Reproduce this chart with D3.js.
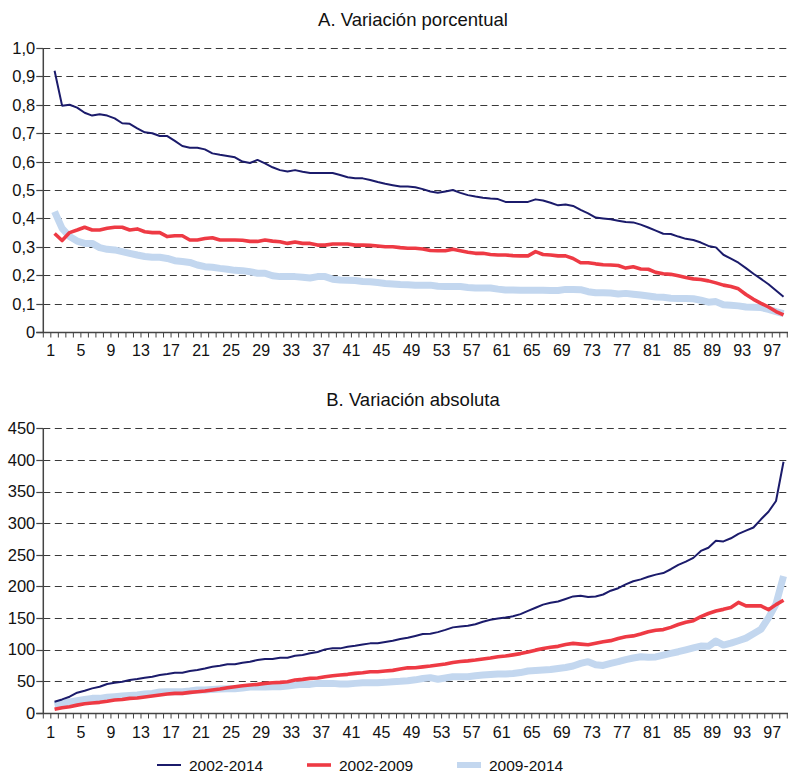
<!DOCTYPE html>
<html><head><meta charset="utf-8">
<script src="https://cdn.jsdelivr.net/npm/d3@7"></script>
<style>
html,body{margin:0;padding:0;background:#fff;}
svg{display:block;font-family:"Liberation Sans",Arial,sans-serif;}
</style></head>
<body>
<svg id="c" width="791" height="773"></svg>
<script>
const seriesNames = ["2002-2014", "2002-2009", "2009-2014"];
const seriesColors = ["#1b1b6b", "#ee3a44", "#c3d7ef"];
const seriesWidths = [2, 3.6, 7];

const categories = d3.range(1, 99);
const xTickLabels = d3.range(1, 98, 4);
const yTicksA = [0, 0.1, 0.2, 0.3, 0.4, 0.5, 0.6, 0.7, 0.8, 0.9, 1.0];
const yTicksB = [0, 50, 100, 150, 200, 250, 300, 350, 400, 450];

const pct_2002_2014 = [0.92,0.797,0.80,0.79,0.772,0.762,0.767,0.762,0.752,0.735,0.733,0.717,0.703,0.70,0.69,0.69,0.673,0.655,0.649,0.649,0.643,0.629,0.624,0.62,0.615,0.60,0.595,0.606,0.594,0.58,0.57,0.565,0.57,0.564,0.56,0.56,0.56,0.56,0.553,0.545,0.541,0.541,0.535,0.528,0.522,0.517,0.512,0.512,0.51,0.503,0.495,0.49,0.495,0.50,0.49,0.482,0.477,0.473,0.47,0.468,0.458,0.458,0.458,0.458,0.467,0.463,0.455,0.446,0.449,0.444,0.43,0.418,0.403,0.40,0.397,0.392,0.387,0.386,0.378,0.368,0.357,0.346,0.345,0.336,0.328,0.324,0.315,0.303,0.298,0.272,0.258,0.244,0.225,0.205,0.187,0.168,0.146,0.124];
const pct_2002_2009 = [0.347,0.322,0.35,0.359,0.369,0.359,0.359,0.365,0.369,0.369,0.359,0.363,0.353,0.35,0.35,0.336,0.339,0.339,0.324,0.324,0.329,0.332,0.324,0.324,0.324,0.323,0.319,0.319,0.324,0.32,0.318,0.312,0.317,0.312,0.312,0.306,0.306,0.31,0.31,0.31,0.306,0.306,0.305,0.303,0.30,0.30,0.297,0.295,0.295,0.292,0.287,0.286,0.286,0.291,0.286,0.281,0.277,0.277,0.273,0.271,0.271,0.269,0.268,0.268,0.283,0.273,0.271,0.268,0.268,0.259,0.244,0.244,0.24,0.237,0.236,0.234,0.225,0.23,0.222,0.221,0.21,0.205,0.203,0.198,0.192,0.187,0.185,0.18,0.173,0.165,0.16,0.152,0.132,0.115,0.101,0.088,0.072,0.06];
const pct_2009_2014 = [0.424,0.365,0.336,0.32,0.312,0.312,0.297,0.291,0.289,0.283,0.277,0.271,0.266,0.263,0.263,0.259,0.251,0.248,0.245,0.236,0.23,0.228,0.224,0.221,0.217,0.216,0.212,0.207,0.207,0.198,0.195,0.195,0.195,0.193,0.19,0.195,0.195,0.186,0.183,0.182,0.181,0.178,0.177,0.174,0.171,0.169,0.167,0.166,0.165,0.165,0.165,0.161,0.16,0.16,0.16,0.157,0.155,0.155,0.155,0.151,0.148,0.148,0.147,0.147,0.147,0.147,0.146,0.146,0.15,0.15,0.149,0.142,0.138,0.138,0.137,0.134,0.136,0.133,0.13,0.127,0.123,0.122,0.119,0.118,0.118,0.117,0.112,0.105,0.107,0.096,0.094,0.092,0.088,0.087,0.086,0.08,0.072,0.065];

const abs_2002_2014 = [17.4,21,25.3,31.6,34.8,38.5,41,45.4,47.5,49,51.7,53.3,55.4,57,59.6,61.2,63.3,63.3,66,67.5,70,72.8,74.4,76.5,76.5,79,80.7,83.3,85,85,87,87,90.2,91.2,94,96,100.2,101.8,101.8,104.4,106,108,109.7,110,112,114,116.5,118.5,121.5,124.5,125,127.5,131,135,136.5,137.5,140,144,147,149,150.5,152.5,156,161,166,171,174,176,180,184,185,183,184,187,193,197,203,208,211,215,218.5,221,227,234,239,245,256,261,272,271,276,283,288,293,306,318,335,397];
const abs_2002_2009 = [5.3,7.9,9.5,12,14.2,15.3,16.4,18,20,21,22.7,23.2,24.8,26.4,28,29.5,30.6,30.6,32.2,33.2,34.3,35.9,37.4,39.5,41.1,42.7,43.8,44.8,46.4,47.5,48,49,51.7,52.7,54.3,54.9,57,58.5,59.6,60.7,62.2,63.3,64.9,64.9,66,67,69,71,71.2,72.5,73.8,75.4,77,79.5,81,82,83.3,85,86.5,88.5,89.7,91.5,93.5,96,99,101.5,103.5,105,108,109.7,108.5,107.5,110,112.3,114,117.5,120.3,121.5,124.5,128,130.5,131.5,135,139.5,143,145.6,152,157,161,163.5,166.5,174.5,169,169,169,163,171,178];
const abs_2009_2014 = [12.1,14.8,16.9,19,21,22.7,22.7,24.3,25.3,26.4,27.4,28,29.5,30.6,32.7,33.2,33.2,33.2,34.3,35.9,35.9,36.9,37.4,38,38,39,40.6,40.6,40.6,41.1,41.1,42.2,43.8,44.8,44.8,46.4,46.4,46.4,45.4,45.4,46.4,47.5,47.5,47.5,48,49,49.6,50.5,52,54,55.4,53,55,57,57,57,58.5,59.6,60.5,61.2,61.2,62,63.5,66,66.8,67.5,68.3,70,71.5,73.8,78,80.7,76,74.8,78,80.7,84,86.5,88.6,87.6,88.3,91.2,93.9,96.5,99.5,102.5,105.5,105,113.5,107,110,113.9,118,125,132,150,172,216];

const svg = d3.select("#c");
const x0 = 43.3, step = 7.515;
const x = d3.scaleLinear().domain([-0.5, 98.5]).range([x0, x0 + 99 * step]);
const xRight = 788;
const gridColor = "#3a3a3a";
const axisColor = "#444";

function panel(cfg) {
  const y = d3.scaleLinear().domain(cfg.domain).range([cfg.bottom, cfg.top]);
  const g = svg.append("g");
  g.append("text").attr("x", 413).attr("y", cfg.titleY).attr("text-anchor", "middle")
    .attr("font-size", 18.5).attr("fill", "#111").text(cfg.title);
  g.selectAll("line.grid").data(cfg.yTicks.filter(v => v !== 0)).enter().append("line")
    .attr("x1", x0).attr("x2", xRight)
    .attr("y1", d => Math.round(y(d)) + 0.5).attr("y2", d => Math.round(y(d)) + 0.5)
    .attr("stroke", gridColor).attr("stroke-width", 1).attr("stroke-dasharray", "7,4.5");
  g.selectAll("line.yt").data(cfg.yTicks).enter().append("line")
    .attr("x1", x0 - 7).attr("x2", x0)
    .attr("y1", d => Math.round(y(d)) + 0.5).attr("y2", d => Math.round(y(d)) + 0.5)
    .attr("stroke", axisColor).attr("stroke-width", 1.2);
  g.selectAll("text.yl").data(cfg.yTicks).enter().append("text")
    .attr("x", x0 - 8).attr("y", d => y(d)).attr("dy", "0.36em")
    .attr("text-anchor", "end").attr("font-size", 16.5).attr("fill", "#111")
    .text(cfg.fmt);
  g.append("line").attr("x1", x0).attr("x2", x0).attr("y1", y(cfg.domain[1])).attr("y2", y(0) + 1)
    .attr("stroke", axisColor).attr("stroke-width", 1.5);
  g.append("line").attr("x1", x0 - 7).attr("x2", xRight).attr("y1", Math.round(y(0)) + 0.5).attr("y2", Math.round(y(0)) + 0.5)
    .attr("stroke", axisColor).attr("stroke-width", 1.5);
  g.selectAll("line.xt").data(d3.range(0, 100)).enter().append("line")
    .attr("x1", k => x(k - 0.5)).attr("x2", k => x(k - 0.5))
    .attr("y1", Math.round(y(0)) + 0.5).attr("y2", Math.round(y(0)) + 5.5)
    .attr("stroke", axisColor).attr("stroke-width", 1);
  g.selectAll("text.xl").data(xTickLabels).enter().append("text")
    .attr("x", d => x(d - 0.5)).attr("y", cfg.xLabelY).attr("text-anchor", "middle")
    .attr("font-size", 16).attr("fill", "#111").text(d => d);
  const line = d3.line().x((d, i) => x(categories[i])).y(d => y(d));
  [2, 1, 0].forEach(s => {
    g.append("path").datum(cfg.series[s]).attr("d", line)
      .attr("fill", "none").attr("stroke", seriesColors[s]).attr("stroke-width", seriesWidths[s])
      .attr("stroke-linejoin", "round");
  });
}

panel({
  title: "A. Variación porcentual", titleY: 26,
  domain: [0, 1.0], top: 48, bottom: 332,
  yTicks: yTicksA, fmt: d => d === 0 ? "0" : d3.format(".1f")(d).replace(".", ","),
  xLabelY: 356,
  series: [pct_2002_2014, pct_2002_2009, pct_2009_2014]
});
panel({
  title: "B. Variación absoluta", titleY: 406,
  domain: [0, 450], top: 428.3, bottom: 712.7,
  yTicks: yTicksB, fmt: d => d,
  xLabelY: 737.5,
  series: [abs_2002_2014, abs_2002_2009, abs_2009_2014]
});

const legX = [157, 307, 457];
const lg = svg.append("g");
seriesNames.forEach((n, i) => {
  lg.append("line").attr("x1", legX[i]).attr("x2", legX[i] + 24).attr("y1", 765).attr("y2", 765)
    .attr("stroke", seriesColors[i]).attr("stroke-width", seriesWidths[i] === 7 ? 6 : seriesWidths[i]);
  lg.append("text").attr("x", legX[i] + 32).attr("y", 765).attr("dy", "0.36em")
    .attr("font-size", 15.5).attr("fill", "#111").text(n);
});
</script>
</body></html>
